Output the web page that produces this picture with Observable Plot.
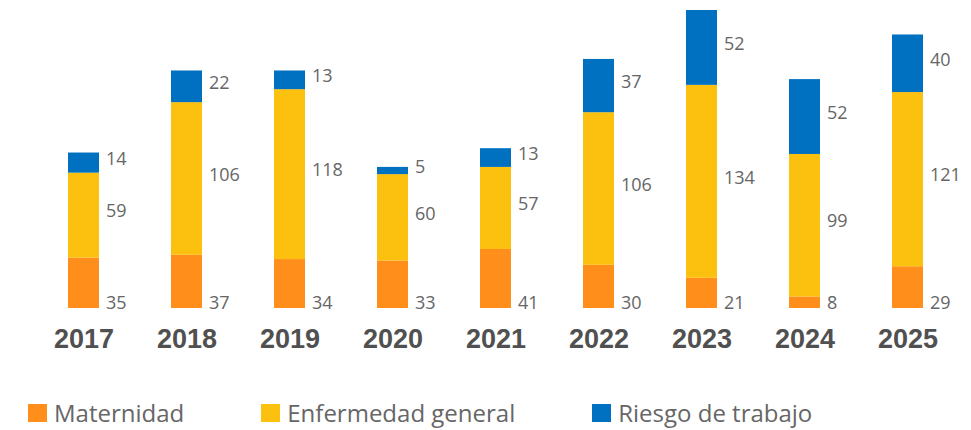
<!DOCTYPE html>
<html>
<head>
<meta charset="utf-8">
<script src="https://cdn.jsdelivr.net/npm/d3@7"></script>
<script src="https://cdn.jsdelivr.net/npm/@observablehq/plot@0.6"></script>
<style>
  html, body { margin: 0; padding: 0; background: #fff; }
  #chart { position: relative; width: 971px; height: 430px; }
  .legend { position: absolute; left: 28px; top: 396px; display: flex; align-items: center;
            font-family: "Open Sans", sans-serif; font-size: 24px; color: #666; }
  .legend .item { display: flex; align-items: center; gap: 7px; }
  .legend .item + .item { margin-left: 77px; }
  .legend .sw { width: 19px; height: 18px; display: inline-block; }
</style>
</head>
<body>
<div id="chart"></div>
<script>
const years = ["2017", "2018", "2019", "2020", "2021", "2022", "2023", "2024", "2025"];
const maternidad = [35, 37, 34, 33, 41, 30, 21, 8, 29];
const enfermedad = [59, 106, 118, 60, 57, 106, 134, 99, 121];
const riesgo = [14, 22, 13, 5, 13, 37, 52, 52, 40];
const series = ["Maternidad", "Enfermedad general", "Riesgo de trabajo"];
const colors = ["#FF8F1A", "#FCC00E", "#0070C0"];

const seriesValues = [maternidad, enfermedad, riesgo];
const rows = [];
years.forEach((y, i) => {
  series.forEach((s, k) => rows.push({year: y, serie: s, value: seriesValues[k][i]}));
});
const totals = years.map((y, i) => maternidad[i] + enfermedad[i] + riesgo[i]);

const W = 971, H = 360;
const stackOpts = {x: "year", y: "value", z: "serie", order: series};

const plot = Plot.plot({
  width: W,
  height: H,
  marginTop: 10,
  marginBottom: 52,
  marginLeft: 31,
  marginRight: 11,
  style: {fontFamily: "'Open Sans', sans-serif", background: "transparent"},
  x: {domain: years, paddingInner: 0.7, paddingOuter: 0.35, label: null},
  y: {domain: [0, d3.max(totals)], axis: null},
  color: {domain: series, range: colors},
  marks: [
    Plot.barY(rows, Plot.stackY({...stackOpts, fill: "serie"})),
    Plot.text(rows, Plot.stackY({
      ...stackOpts, text: d => d.serie === "Maternidad" ? "" : d.value,
      textAnchor: "start", dx: 22, dy: -4, fontSize: 18, fill: "#666"
    })),
    Plot.text(rows.filter(d => d.serie === "Maternidad"), {
      x: "year", y: () => 0, text: "value", textAnchor: "start", lineAnchor: "bottom",
      dx: 22, fontSize: 18, fill: "#666"
    }),
    Plot.axisX({tickSize: 0, tickPadding: 20, fontSize: 27, fontWeight: "bold", fill: "#505050",
                fontFamily: "'Liberation Sans', Arial, sans-serif", label: null})
  ]
});

const chart = document.getElementById("chart");
chart.appendChild(plot);

const legend = document.createElement("div");
legend.className = "legend";
series.forEach((s, k) => {
  const item = document.createElement("div");
  item.className = "item";
  const sw = document.createElement("span");
  sw.className = "sw";
  sw.style.background = colors[k];
  const lab = document.createElement("span");
  lab.textContent = s;
  item.appendChild(sw);
  item.appendChild(lab);
  legend.appendChild(item);
});
chart.appendChild(legend);
</script>
</body>
</html>
